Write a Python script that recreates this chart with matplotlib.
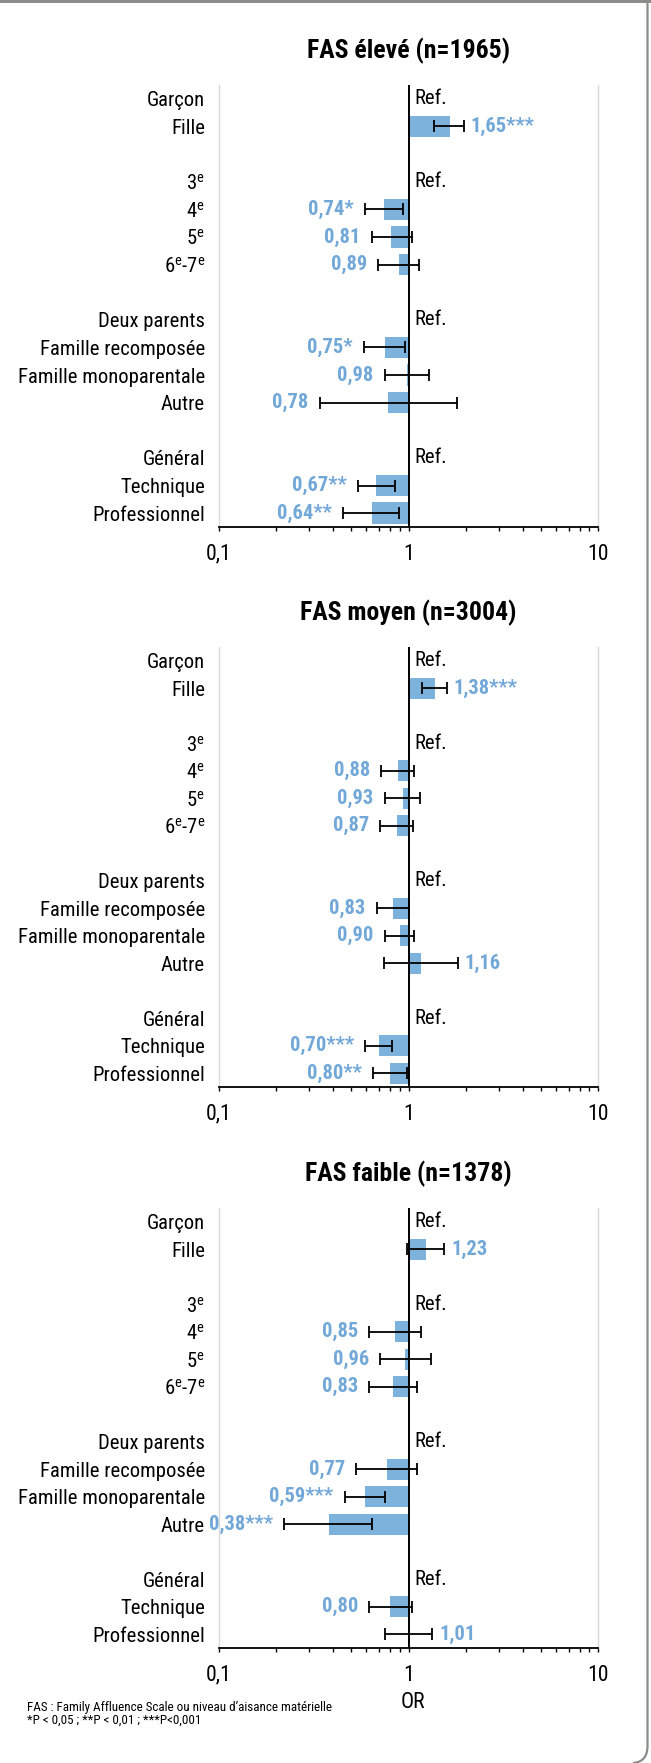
import matplotlib
matplotlib.use("Agg")
import matplotlib.pyplot as plt
import numpy as np
from matplotlib import font_manager
from matplotlib.path import Path
from matplotlib.patches import PathPatch, Rectangle
from matplotlib.ticker import FixedLocator, LogLocator, NullFormatter

W, H = 651, 1763

ROW_LABELS = ["Garçon", "Fille", "",
              "3$^{\\mathrm{e}}$", "4$^{\\mathrm{e}}$", "5$^{\\mathrm{e}}$",
              "6$^{\\mathrm{e}}$-7$^{\\mathrm{e}}$", "",
              "Deux parents", "Famille recomposée", "Famille monoparentale", "Autre", "",
              "Général", "Technique", "Professionnel"]
REF_ROWS = [0, 3, 8, 13]
CMP_ROWS = [1, 4, 5, 6, 9, 10, 11, 14, 15]

titles = ["FAS élevé (n=1965)", "FAS moyen (n=3004)", "FAS faible (n=1378)"]

# odds ratios, confidence bounds and significance stars, one list per panel
or_eleve = [1.65, 0.74, 0.81, 0.89, 0.75, 0.98, 0.78, 0.67, 0.64]
low_eleve = [1.36, 0.59, 0.64, 0.69, 0.58, 0.75, 0.34, 0.54, 0.45]
high_eleve = [1.96, 0.94, 1.04, 1.14, 0.96, 1.28, 1.80, 0.85, 0.89]
sig_eleve = ["***", "*", "", "", "*", "", "", "**", "**"]

or_moyen = [1.38, 0.88, 0.93, 0.87, 0.83, 0.90, 1.16, 0.70, 0.80]
low_moyen = [1.18, 0.72, 0.75, 0.71, 0.68, 0.75, 0.74, 0.59, 0.65]
high_moyen = [1.59, 1.07, 1.15, 1.06, 1.01, 1.07, 1.82, 0.82, 0.98]
sig_moyen = ["***", "", "", "", "", "", "", "***", "**"]

or_faible = [1.23, 0.85, 0.96, 0.83, 0.77, 0.59, 0.38, 0.80, 1.01]
low_faible = [0.98, 0.62, 0.71, 0.62, 0.53, 0.46, 0.22, 0.62, 0.75]
high_faible = [1.54, 1.16, 1.32, 1.11, 1.11, 0.75, 0.64, 1.04, 1.33]
sig_faible = ["", "", "", "", "", "***", "***", "", ""]

panels = [
    (or_eleve, low_eleve, high_eleve, sig_eleve),
    (or_moyen, low_moyen, high_moyen, sig_moyen),
    (or_faible, low_faible, high_faible, sig_faible),
]

BAR_COLOR = "#7DB2DD"
LABEL_COLOR = "#72A8D8"
FRAME_COLOR = "#8C8C88"


def pick_font():
    fonts = font_manager.fontManager.ttflist
    names = {f.name for f in fonts}
    for name, k in [("Liberation Sans Narrow", 1.0), ("Arial Narrow", 1.0),
                    ("Roboto Condensed", 0.95), ("Open Sans Condensed", 0.95)]:
        if name in names:
            return name, "normal", k
    for f in fonts:
        if f.name == "DejaVu Sans" and "condensed" in str(f.stretch):
            return "DejaVu Sans", "condensed", 0.86
    return "Liberation Sans", "normal", 0.84


FONT, STRETCH, K = pick_font()
plt.rcParams["font.family"] = [FONT, "DejaVu Sans"]
plt.rcParams["font.stretch"] = STRETCH
plt.rcParams["mathtext.fontset"] = "custom"
plt.rcParams["mathtext.rm"] = FONT
plt.rcParams["mathtext.it"] = FONT

fig = plt.figure(figsize=(W / 100, H / 100), dpi=100)

# axes boxes in pixels: (top, bottom)
boxes = [(85, 527), (647, 1087), (1208, 1648)]
x0, x1 = 219, 598

for (top, bot), title, (ors, lows, highs, sigs) in zip(boxes, titles, panels):
    ax = fig.add_axes([x0 / W, 1 - bot / H, (x1 - x0) / W, (bot - top) / H])
    ax.set_xscale("log")
    ax.set_xlim(0.1, 10)
    ax.set_ylim(15.5, -0.5)

    ors_a = np.array(ors)
    ax.barh(CMP_ROWS, ors_a - 1, left=1, height=0.78, color=BAR_COLOR, zorder=2)
    ax.errorbar(ors_a, CMP_ROWS,
                xerr=[ors_a - np.array(lows), np.array(highs) - ors_a],
                fmt="none", ecolor="black", elinewidth=1.3, capsize=4.5,
                capthick=1.3, zorder=3)
    ax.axvline(1, color="black", lw=1.4, zorder=4)

    for y, v, lo, hi, s in zip(CMP_ROWS, ors, lows, highs, sigs):
        txt = f"{v:.2f}".replace(".", ",") + s
        if v < 1:
            ax.annotate(txt, (lo, y), xytext=(-8, 0), textcoords="offset points",
                        ha="right", va="center", color=LABEL_COLOR,
                        fontsize=15.5 * K, fontweight="bold")
        else:
            ax.annotate(txt, (hi, y), xytext=(5, 0), textcoords="offset points",
                        ha="left", va="center", color=LABEL_COLOR,
                        fontsize=15.5 * K, fontweight="bold")
    for y in REF_ROWS:
        ax.annotate("Ref.", (1, y), xytext=(4, 0), textcoords="offset points",
                    ha="left", va="center", color="black", fontsize=15.6 * K)

    ax.set_yticks(range(len(ROW_LABELS)))
    ax.set_yticklabels(ROW_LABELS, fontsize=15.6 * K)
    ax.tick_params(axis="y", length=0, pad=10)

    ax.xaxis.set_major_locator(FixedLocator([0.1, 1, 10]))
    ax.set_xticklabels(["0,1", "1", "10"], fontsize=16.5 * K)
    ax.xaxis.set_minor_locator(LogLocator(base=10, subs=np.arange(2, 10)))
    ax.xaxis.set_minor_formatter(NullFormatter())
    ax.tick_params(axis="x", which="both", direction="out", length=3, width=1,
                   color="black", pad=9)

    for side in ("left", "right"):
        ax.spines[side].set_color("#D9D9D9")
        ax.spines[side].set_linewidth(1)
    ax.spines["top"].set_visible(False)
    ax.spines["bottom"].set_linewidth(1.3)

    ax.text(0.5, 1 + 34 / (bot - top), title, transform=ax.transAxes,
            ha="center", va="center", fontsize=19.5 * K, fontweight="bold")

fig.text(413 / W, 1 - 1702 / H, "OR", ha="center", va="center", fontsize=16.5 * K)
fig.text(27 / W, 1 - 1707 / H,
         "FAS : Family Affluence Scale ou niveau d’aisance matérielle",
         ha="left", va="center", fontsize=9.9 * K)
fig.text(27 / W, 1 - 1720 / H, "*P < 0,05 ; **P < 0,01 ; ***P<0,001",
         ha="left", va="center", fontsize=9.9 * K)

# frame: grey band on top, right edge with rounded bottom corner
fig.patches.append(Rectangle((0, 1 - 3 / H), 1, 3 / H, transform=fig.transFigure,
                             color=FRAME_COLOR, lw=0))
verts = [(647.5, 2), (647.5, 1746), (647.5, 1762), (633, 1763)]
verts = [(x / W, 1 - y / H) for x, y in verts]
frame = PathPatch(Path(verts, [Path.MOVETO, Path.LINETO, Path.CURVE3, Path.CURVE3]),
                  transform=fig.transFigure, fill=False, edgecolor=FRAME_COLOR, lw=1.6)
fig.patches.append(frame)

fig.savefig("out.png", dpi=100)
